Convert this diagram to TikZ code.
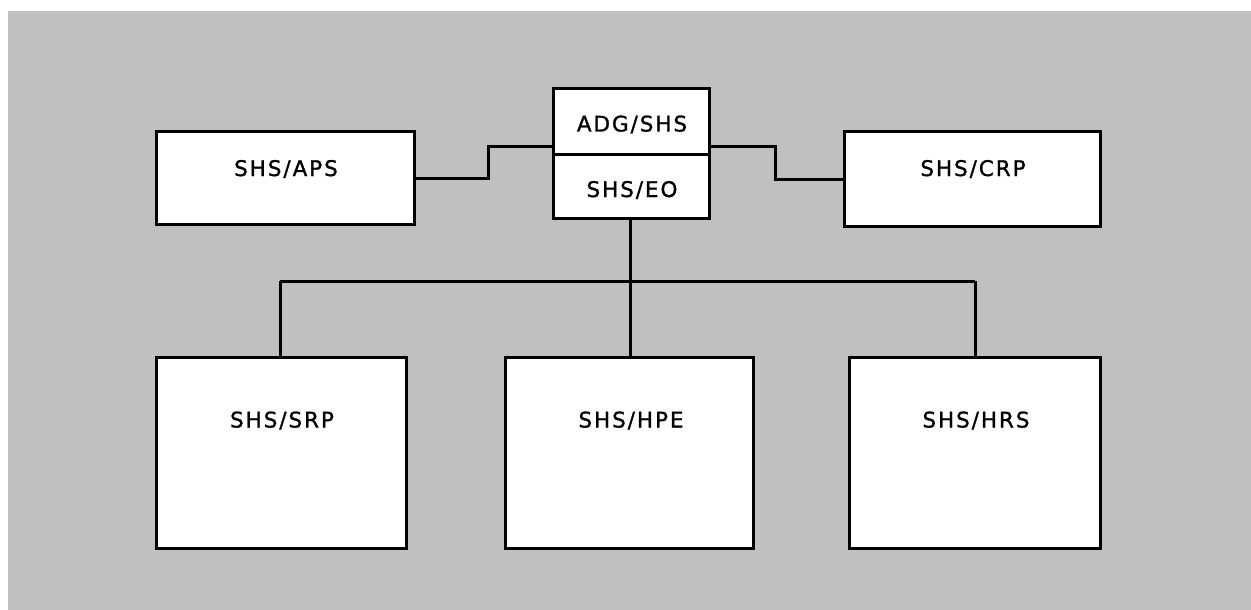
\documentclass[tikz,border=0pt]{standalone}
\usepackage{fontspec}
\setmainfont{DejaVu Sans}[LetterSpace=9,FakeBold=1.2]
\begin{document}
\begin{tikzpicture}[x=1pt,y=-1pt,
  box/.style={draw=black,fill=white,line width=3pt,inner sep=0pt,anchor=center},
  lbl/.style={inner sep=0pt,text height=15pt,text depth=0pt,font=\fontsize{21.5}{24}\selectfont},
  wire/.style={draw=black,line width=3pt}]
\useasboundingbox (0,0) rectangle (1251,610);
\fill[white] (0,0) rectangle (1251,610);
\fill[fill={rgb,255:red,192;green,192;blue,192}] (8,11) rectangle (1251,610);
% top boxes
\node[box,minimum width=156pt,minimum height=65.5pt] (adg) at (631.5,121.25) {};
\node[box,minimum width=156pt,minimum height=64.5pt] (eo) at (631.5,186.25) {};
\node[box,minimum width=258pt,minimum height=93pt] (aps) at (285.5,178) {};
\node[box,minimum width=256pt,minimum height=95pt] (crp) at (972.5,179) {};
% bottom boxes
\node[box,minimum width=250pt,minimum height=191pt] (srp) at (281.5,453) {};
\node[box,minimum width=248pt,minimum height=191pt] (hpe) at (629.5,453) {};
\node[box,minimum width=251pt,minimum height=191pt] (hrs) at (975,453) {};
% labels
\node[lbl] (adgt) at (632,124) {ADG/SHS};
\node[lbl] (eot) at (632,189.5) {SHS/EO};
\node[lbl] (apst) at (286,168.5) {SHS/APS};
\node[lbl] (crpt) at (973,168.5) {SHS/CRP};
\node[lbl] (srpt) at (282,420) {SHS/SRP};
\node[lbl] (hpet) at (631,420) {SHS/HPE};
\node[lbl] (hrst) at (976,420) {SHS/HRS};
% connectors
\coordinate (j) at (630,281);
\draw[wire] (aps.east) -- (488,178) -- (488,146) -- (adg.west |- 0,146);
\draw[wire] (adg.east |- 0,146) -- (775,146) -- (775,179) -- (crp.west);
\draw[wire] (eo.south -| j) -- (j);
\draw[wire] (280,281) -- (975,281);
\draw[wire] (280,281) -- (srp.north -| 280,0);
\draw[wire] (j) -- (hpe.north -| j);
\draw[wire] (975,281) -- (hrs.north);
\end{tikzpicture}
\end{document}
